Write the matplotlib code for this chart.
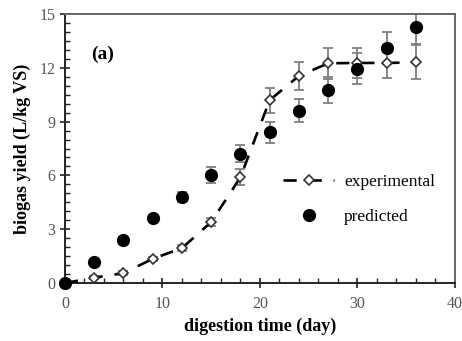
import matplotlib.pyplot as plt
from matplotlib.ticker import MultipleLocator

# digestion time (day)
days = [0, 3, 6, 9, 12, 15, 18, 21, 24, 27, 30, 33, 36]

# experimental biogas yield (L/kg VS) and its error
experimental = [0.0, 0.3, 0.55, 1.35, 1.95, 3.4, 5.9, 10.2, 11.55, 12.25, 12.27, 12.27, 12.3]
exp_err = [0.0, 0.1, 0.1, 0.12, 0.15, 0.2, 0.45, 0.7, 0.8, 0.85, 0.85, 0.85, 0.95]

# predicted yield and its error
predicted = [0.0, 1.2, 2.4, 3.6, 4.8, 6.0, 7.22, 8.4, 9.6, 10.76, 11.95, 13.12, 14.3]
pred_err = [0.0, 0.1, 0.15, 0.15, 0.3, 0.45, 0.5, 0.6, 0.65, 0.72, 0.85, 0.9, 1.0]

plt.rcParams['font.family'] = ['Liberation Serif', 'DejaVu Serif']

fig = plt.figure(figsize=(4.62, 3.41), dpi=100)
ax = fig.add_axes([0.1407, 0.170, 0.844, 0.789])

# 오차 막대 (회색)
ax.errorbar(days, experimental, yerr=exp_err, fmt='none', ecolor='#7f7f7f',
            elinewidth=1.3, capsize=3.8, capthick=1.3, zorder=2)
ax.errorbar(days, predicted, yerr=pred_err, fmt='none', ecolor='#7f7f7f',
            elinewidth=1.3, capsize=3.8, capthick=1.3, zorder=2)

ax.plot(days, experimental, color='black', lw=1.9, dashes=(5, 4.5),
        marker='D', ms=5.5, mfc='white', mec='#333333', mew=1.2,
        label='experimental', zorder=3)
ax.plot(days, predicted, linestyle='none', marker='o', ms=8.5,
        color='black', label='predicted', zorder=4, clip_on=False)

ax.set_xlim(0, 40)
ax.set_ylim(0, 15)
ax.xaxis.set_major_locator(MultipleLocator(10))
ax.xaxis.set_minor_locator(MultipleLocator(2))
ax.yaxis.set_major_locator(MultipleLocator(3))
ax.yaxis.set_minor_locator(MultipleLocator(0.5))
ax.tick_params(which='major', direction='inout', length=7, width=1.2,
               labelsize=11.5, labelcolor='#555555', colors='#222222')
ax.tick_params(which='minor', direction='in', length=3.5, width=1.0, colors='#222222')
ax.tick_params(axis='x', pad=6)

for side in ['left', 'bottom']:
    ax.spines[side].set_linewidth(1.4)
    ax.spines[side].set_color('#222222')
for side in ['top', 'right']:
    ax.spines[side].set_linewidth(1.4)
    ax.spines[side].set_color('#666666')

ax.set_xlabel('digestion time (day)', fontsize=13, fontweight='bold', labelpad=4)
ax.set_ylabel('biogas yield (L/kg VS)', fontsize=13, fontweight='bold', labelpad=6)

ax.text(2.7, 12.5, '(a)', fontsize=14, fontweight='bold')

ax.legend(loc='center left', bbox_to_anchor=(0.52, 0.31), frameon=False,
          fontsize=12.5, handlelength=2.9, handletextpad=0.6, labelspacing=1.1)

plt.savefig('out.png', dpi=100)
